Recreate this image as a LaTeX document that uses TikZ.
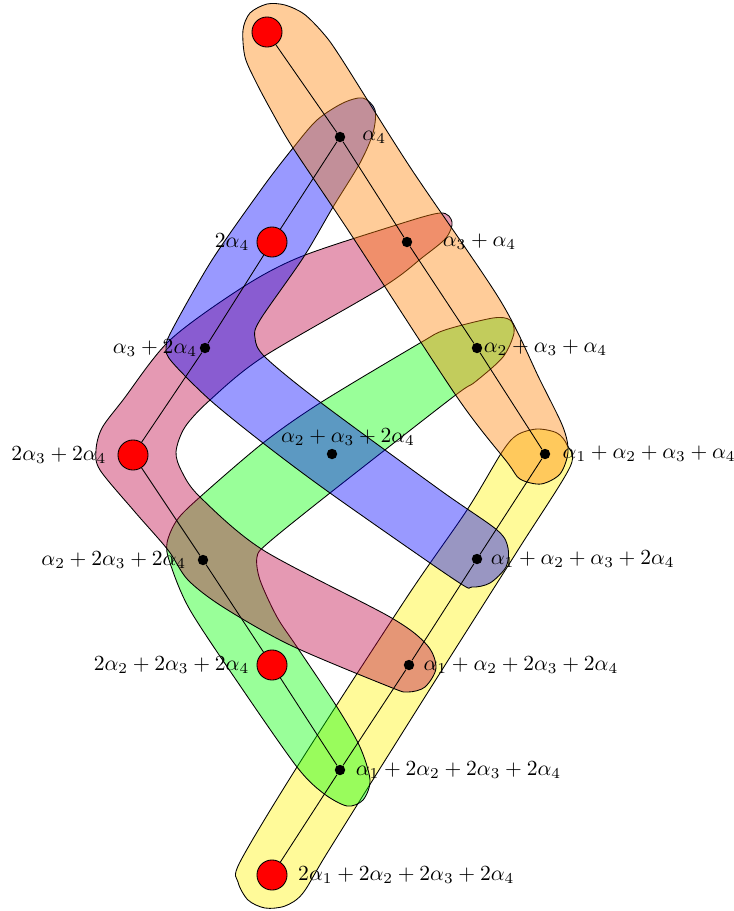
\documentclass[tikz,border=0pt]{standalone}
\usepackage{amsmath}
\usetikzlibrary{positioning,backgrounds}
\tikzset{
  wire/.style = {line width=0.4pt},
  band/.style = {draw, line width=0.4pt, fill opacity=0.4},
  bdot/.style = {circle, fill=black, inner sep=0pt, minimum size=1.7mm},
  rdot/.style = {circle, draw, fill=red, inner sep=0pt, minimum size=4.9mm},
  lbl/.style  = {inner sep=0pt},
}
\begin{document}
\begin{tikzpicture}[x=0.163mm, y=-0.163mm]
  \useasboundingbox (0,0) rectangle (733,911);
  % roots, placed on the reference grid
  \node[rdot] (r0) at (267,32) {};
  \node[bdot] (r4) at (340,137) {};
  \node[rdot] (r44) at (272,242) {};
  \node[bdot] (r34) at (407,242) {};
  \node[bdot] (r344) at (205,348) {};
  \node[bdot] (r234) at (477,348) {};
  \node[rdot] (r3344) at (133,455) {};
  \node[bdot] (r2344) at (332,454) {};
  \node[bdot] (r1234) at (545,454) {};
  \node[bdot] (r23344) at (203,560) {};
  \node[bdot] (r12344) at (477,559) {};
  \node[rdot] (r223344) at (272,665) {};
  \node[bdot] (r123344) at (409,665) {};
  \node[bdot] (r1223344) at (340,770) {};
  \node[rdot] (r11223344) at (272,875) {};
  % labels
  \node[lbl, right=7.6pt of r4] (l4) {$\alpha_4$};
  \node[lbl, left=3.2pt of r44] (l44) {$2\alpha_4$};
  \node[lbl, right=13.8pt of r34] (l34) {$\alpha_3+\alpha_4$};
  \node[lbl, left=0.9pt of r344] (l344) {$\alpha_3+2\alpha_4$};
  \node[lbl, right=0.4pt of r234] (l234) {$\alpha_2+\alpha_3+\alpha_4$};
  \node[lbl, left=5pt of r3344] (l3344) {$2\alpha_3+2\alpha_4$};
  \node[lbl, above=1pt of r2344, xshift=7.4pt] (l2344) {$\alpha_2+\alpha_3+2\alpha_4$};
  \node[lbl, right=5.4pt of r1234] (l1234) {$\alpha_1+\alpha_2+\alpha_3+\alpha_4$};
  \node[lbl, left=5pt of r23344] (l23344) {$\alpha_2+2\alpha_3+2\alpha_4$};
  \node[lbl, right=3.6pt of r12344] (l12344) {$\alpha_1+\alpha_2+\alpha_3+2\alpha_4$};
  \node[lbl, left=3.2pt of r223344] (l223344) {$2\alpha_2+2\alpha_3+2\alpha_4$};
  \node[lbl, right=4pt of r123344] (l123344) {$\alpha_1+\alpha_2+2\alpha_3+2\alpha_4$};
  \node[lbl, right=4.5pt of r1223344] (l1223344) {$\alpha_1+2\alpha_2+2\alpha_3+2\alpha_4$};
  \node[lbl, right=4.8pt of r11223344] (l11223344) {$2\alpha_1+2\alpha_2+2\alpha_3+2\alpha_4$};
  % chains
  \draw[wire] (r0) -- (r4) -- (r34) -- (r234) -- (r1234);
  \draw[wire] (r4) -- (r44) -- (r344) -- (r3344);
  \draw[wire] (r3344) -- (r23344) -- (r223344) -- (r1223344);
  \draw[wire] (r1234) -- (r12344) -- (r123344) -- (r1223344) -- (r11223344);
  % bands, bottom one first
  \begin{scope}[on background layer]
    \draw[band, fill=yellow] plot[smooth cycle] coordinates {
      (502,452) (517,435) (537,429) (557,433) (567,445) (570,467)
      (518,550) (423,700) (329,850) (303,893) (285,906) (265,908)
      (248,900) (238,882) (240,862) (297,767) (407,597) (467,510)};
    \draw[band, fill=green] plot[smooth cycle] coordinates {
      (493,318) (510,320) (514,333) (503,357) (475,382) (453,397)
      (330,493) (268,543) (257,557) (260,580) (277,617) (297,647)
      (337,707) (360,747) (370,780) (363,800) (347,806) (323,793)
      (297,767) (243,690) (190,610) (170,563) (167,543) (177,520)
      (200,497) (263,443) (320,403) (420,343) (445,330)};
    \draw[band, fill=purple] plot[smooth cycle] coordinates {
      (100,470) (135,512) (168,550) (188,580) (223,607) (290,645)
      (390,687) (408,692) (425,687) (436,668) (427,645) (390,617)
      (263,550) (200,497) (182,472) (176,452) (185,427) (210,400)
      (263,357) (383,287) (423,257) (446,238) (452,222) (440,213)
      (390,227) (300,257) (243,287) (170,340) (123,400) (102,428)
      (96,450)};
    \draw[band, fill=blue] plot[smooth cycle] coordinates {
      (317,120) (343,103) (363,98) (375,110) (373,133) (360,163)
      (333,207) (303,258) (260,320) (255,338) (265,357) (320,402)
      (440,490) (497,530) (508,548) (506,567) (490,583) (472,587)
      (455,580) (330,493) (263,443) (210,400) (172,362) (166,348)
      (172,330) (212,260) (263,187) (293,148)};
    \draw[band, fill=orange] plot[smooth cycle] coordinates {
      (243,30) (250,13) (267,4) (285,5) (304,14) (323,33) (341,58)
      (410,167) (500,300) (540,380) (563,427) (568,452) (560,474)
      (541,484) (520,479) (507,462) (457,397) (350,233) (293,148)
      (272,112) (256,82) (245,57)};
  \end{scope}
\end{tikzpicture}
\end{document}
